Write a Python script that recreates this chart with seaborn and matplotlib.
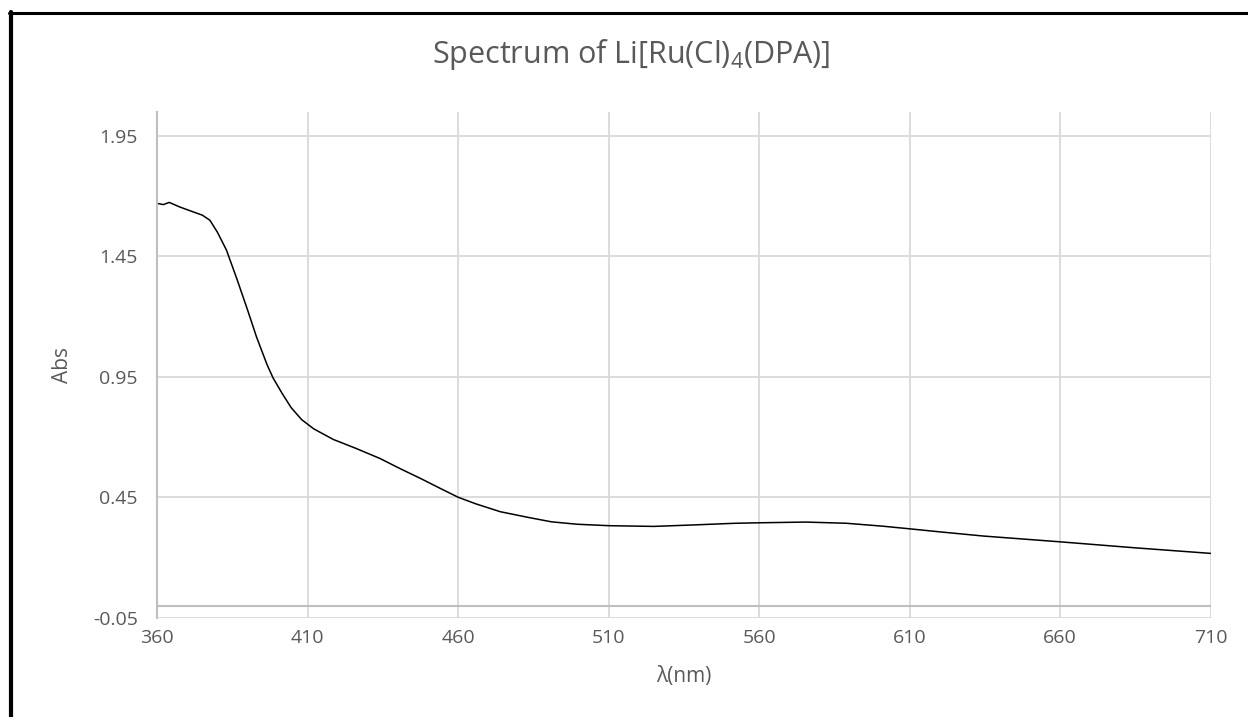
import matplotlib
matplotlib.use('Agg')
import matplotlib.pyplot as plt
from matplotlib.lines import Line2D
import seaborn as sns
import pandas as pd

# ---- data ----
wavelength = [360, 362, 364, 367.5, 371, 375, 377.5, 380, 383, 386.5, 390, 393,
              396.5, 398.5, 401.5, 404.5, 408, 412, 418.5, 426, 434, 440.5, 447.5,
              454, 460, 466, 474, 483, 491, 499.5, 510, 525, 538, 552, 560, 575.5,
              589, 601, 610, 619.5, 634.5, 660, 685, 710]
absorbance = [1.670, 1.665, 1.674, 1.655, 1.639, 1.621, 1.600, 1.550, 1.476, 1.355,
              1.228, 1.115, 1.000, 0.945, 0.881, 0.822, 0.772, 0.734, 0.690, 0.653,
              0.611, 0.570, 0.528, 0.487, 0.450, 0.422, 0.390, 0.367, 0.348, 0.338,
              0.332, 0.329, 0.335, 0.342, 0.344, 0.347, 0.342, 0.330, 0.319, 0.307,
              0.289, 0.265, 0.240, 0.217]
x_ticks = [360, 410, 460, 510, 560, 610, 660, 710]
y_ticks = [-0.05, 0.45, 0.95, 1.45, 1.95]
y_tick_labels = ['-0.05', '0.45', '0.95', '1.45', '1.95']

df = pd.DataFrame({'wl': wavelength, 'abs': absorbance})

sns.set_style('white')
plt.rcParams['font.family'] = ['Open Sans', 'DejaVu Sans']
plt.rcParams['mathtext.fontset'] = 'custom'
plt.rcParams['mathtext.rm'] = 'Open Sans'
plt.rcParams['mathtext.default'] = 'regular'

text_col = '#595959'
grid_col = '#d9d9d9'
axis_col = '#bfbfbf'

fig = plt.figure(figsize=(12.48, 7.17), dpi=100)
ax = fig.add_axes([0.126, 0.1385, 0.844, 0.7055])

sns.lineplot(data=df, x='wl', y='abs', ax=ax, color='black', linewidth=1.1)

ax.set_xlim(360, 710)
ax.set_ylim(-0.05, 2.05)
ax.set_xticks(x_ticks)
ax.set_xticklabels([str(t) for t in x_ticks])
ax.set_yticks(y_ticks)
ax.set_yticklabels(y_tick_labels)
ax.tick_params(axis='both', length=0, labelsize=14, colors=text_col)
ax.tick_params(axis='x', pad=8)
ax.tick_params(axis='y', pad=14)

ax.grid(True, color=grid_col, linewidth=1.3)
ax.axhline(0, color=axis_col, linewidth=1.5, zorder=1.5)
for s in ['top', 'right', 'bottom']:
    ax.spines[s].set_visible(False)
ax.spines['left'].set_color(axis_col)
ax.spines['left'].set_linewidth(1.5)

ax.set_xlabel('λ(nm)', fontsize=15, color=text_col, labelpad=14)
ax.set_ylabel('Abs', fontsize=15, color=text_col, labelpad=14)
fig.suptitle('Spectrum of Li[Ru(Cl)$_{4}$(DPA)]', fontsize=22, color=text_col,
             x=631 / 1248, y=1 - 54 / 717, va='center')

# outer frame (cut off at right and bottom)
fig.add_artist(Line2D([9 / 1248, 1], [1 - 13 / 717, 1 - 13 / 717], color='black',
                      linewidth=2.2, transform=fig.transFigure))
fig.add_artist(Line2D([11 / 1248, 11 / 1248], [0, 1 - 12 / 717], color='black',
                      linewidth=3, transform=fig.transFigure))

plt.savefig('out.png', dpi=100)
